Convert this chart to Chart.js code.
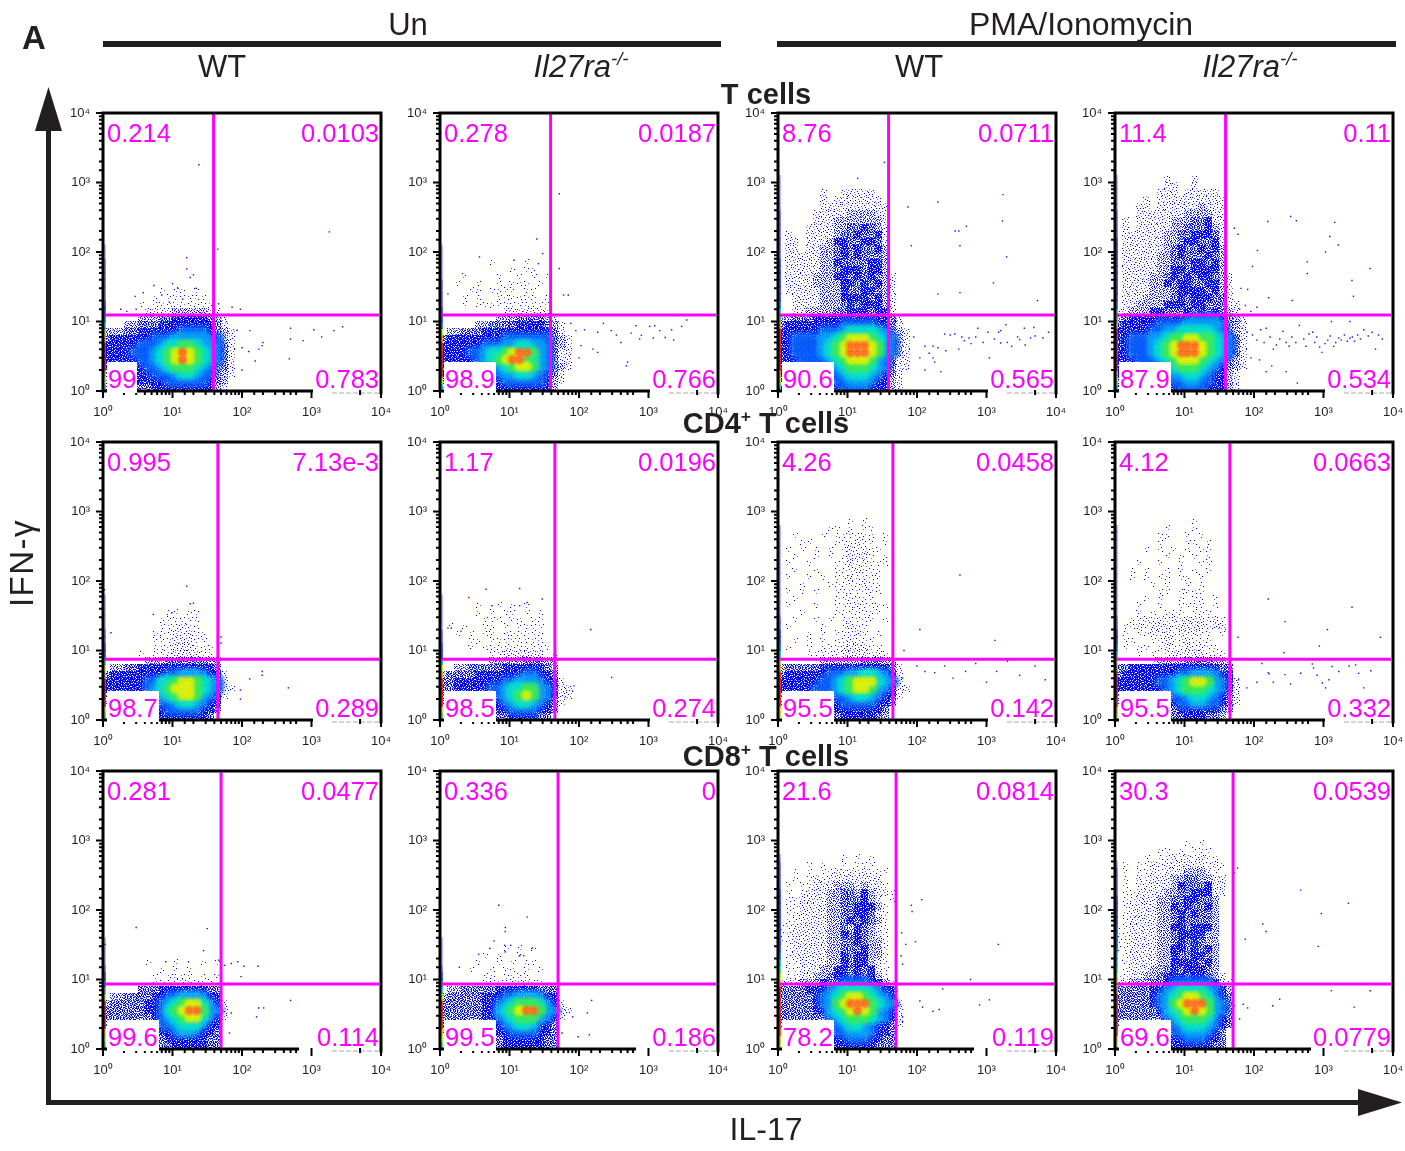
<!DOCTYPE html>
<html>
<head>
<meta charset="utf-8">
<title>IFN-γ / IL-17</title>
<script src="https://cdn.jsdelivr.net/npm/chart.js@4"></script>
<style>
  html, body { margin: 0; background: #fff; }
  #page { position: relative; width: 1405px; height: 1151px; overflow: hidden;
          font-family: "Liberation Sans", Arial, sans-serif; color: #231f20; }
  #page canvas { position: absolute; }
  .txt { position: absolute; white-space: nowrap; transform: translate(-50%, -50%); line-height: 1; }
  .gate { position: absolute; white-space: nowrap; color: #ff00ff; font-size: 25.5px; line-height: 1; }
  sup { font-size: 60%; line-height: 0; }
</style>
</head>
<body>
<div id="page"></div>
<script>
const tickValues = [1, 10, 100, 1000, 10000];
const tickLabels = ["10⁰", "10¹", "10²", "10³", "10⁴"];
const conditions = ["Un", "PMA/Ionomycin"];
const rowTitles = ["T cells", "CD4<sup>+</sup> T cells", "CD8<sup>+</sup> T cells"];

// gate position of each row, in axis units
const gateX = [39, 45, 50];
const gateY = [12.4, 7.5, 8.6];

// quadrant percentages: upper left, upper right, lower left, lower right
const pctTWtUn = ["0.214", "0.0103", "99", "0.783"];
const pctTKoUn = ["0.278", "0.0187", "98.9", "0.766"];
const pctTWtPma = ["8.76", "0.0711", "90.6", "0.565"];
const pctTKoPma = ["11.4", "0.11", "87.9", "0.534"];
const pctCd4WtUn = ["0.995", "7.13e-3", "98.7", "0.289"];
const pctCd4KoUn = ["1.17", "0.0196", "98.5", "0.274"];
const pctCd4WtPma = ["4.26", "0.0458", "95.5", "0.142"];
const pctCd4KoPma = ["4.12", "0.0663", "95.5", "0.332"];
const pctCd8WtUn = ["0.281", "0.0477", "99.6", "0.114"];
const pctCd8KoUn = ["0.336", "0", "99.5", "0.186"];
const pctCd8WtPma = ["21.6", "0.0814", "78.2", "0.119"];
const pctCd8KoPma = ["30.3", "0.0539", "69.6", "0.0779"];

// density, one character per 0.1 x 0.1 decade cell, top row first,
// first column at 10^0: a,1,2,3 = sparse to dense blue, 4..9 = light blue up to red
const gridTWtUn = [
  "00000000a0aa0a000000",
  "0000000a0aaaaaa00000",
  "00000a0aaaaaaaaa0000",
  "00000011112222211000",
  "00000111223333322100",
  "00011222333333333100",
  "11122333333444433210",
  "23333334445555544210",
  "33333444566776554310",
  "33334445678987654310",
  "33333445678987654310",
  "33333344567776543310",
  "22333334445665443210",
  "12223333344444433200",
  "12222223333333332100",
];
const gridTKoUn = [
  "0000000a0000a0000000",
  "0000000000a0aa000000",
  "000a0000a00a0a0a0000",
  "00a00a00a0aaa0a00000",
  "0000aa0aaaa0aa000000",
  "000a0a00aaaaaa0a0000",
  "000a0aaaaaaaaaaa0000",
  "00000000011111110000",
  "00000000111222211000",
  "00000112222333322100",
  "01122233333333333100",
  "23333333344444443210",
  "33333344455665543210",
  "33334456678997543110",
  "33333456789976543110",
  "33333344567887543210",
  "33333334455665433100",
  "23333333344444432100",
  "12233333333333332000",
];
const gridTWtPma = [
  "00000010011111000000",
  "00000010111111100000",
  "00000011111111110000",
  "00000111112222110000",
  "00000111222222210000",
  "00001111223333210000",
  "01001111233333310000",
  "01101112333333310000",
  "01101122333333320000",
  "01111122333333320000",
  "01111122333333320000",
  "01111122333333320000",
  "01111222333333321000",
  "01111222233333321000",
  "01111122233333321000",
  "00111122233333321000",
  "00111122233333321000",
  "00112222333333331000",
  "11222333333333333100",
  "23333333344444333100",
  "33333344456666543210",
  "33444455678887654210",
  "33444456789998754210",
  "33444456789998754210",
  "33344445678887543110",
  "33344444567776543110",
  "33333344456665433100",
  "23333333445554332100",
  "23333333344443332100",
];
const gridTKoPma = [
  "00000001000100000000",
  "00000001100100000000",
  "00000011101111100000",
  "00001011111111110000",
  "00011011111121110000",
  "00011111112222110000",
  "01011111222333110000",
  "01011111223333210000",
  "01111112233333310000",
  "01111112233333310000",
  "01111112333333320000",
  "01111122333333320000",
  "01111122333333320000",
  "01111122333333320000",
  "01111223333333321000",
  "01111223333333321000",
  "01111222333333321000",
  "01112222333333331000",
  "01122223333333331100",
  "11222333333333332100",
  "12333333333444433210",
  "23333344445555543210",
  "33333445566666543210",
  "33444556778877654310",
  "33444567899987654310",
  "33444567899987654310",
  "33344456788876543210",
  "33344445677765433210",
  "33333344556654332100",
  "23333334445544332100",
  "23333333344443332100",
];
const gridCd4WtUn = [
  "000000000aa0aa000000",
  "00000000aaaaaa000000",
  "00000000aaa1aa000000",
  "0000000aaa1a1aa00000",
  "0000000aaa111aa00000",
  "0000000aaa111aaa0000",
  "00000a0aaa1111aa0000",
  "00000011122222211000",
  "01122333333333332000",
  "23333333344555433100",
  "33333344667887654100",
  "33333345678887654110",
  "23333333567887543100",
  "12222333445665433000",
  "00122233344444332000",
  "00112233333333320000",
];
const gridCd4KoUn = [
  "00000a00a0a0a0000000",
  "00000a0a0aa0a0a00000",
  "000000aaa0aa0aa00000",
  "0a0a00aa0a0aaaa00000",
  "00a0a0aa0aaaaaa00000",
  "0000aa0aaaaaaaa00000",
  "0000a0aaaaaaaaaa0000",
  "0000000aa1111110a000",
  "00000001111122211000",
  "00112222233333321000",
  "12222333333344332000",
  "22333333344555433100",
  "22333334456677543110",
  "22333333456787543110",
  "12222223345665432100",
  "00122222334444332000",
  "00011122223333220000",
];
const gridCd4WtPma = [
  "0000000000a0a0000000",
  "0000000aa0a0aa000000",
  "00a000a0aaaaaa0a0000",
  "000aa000aaa1aa0a0000",
  "0a0a0a0a0a1a1aa00000",
  "00a00a0a0a111a0a0000",
  "0a00a000aa1a1aaa0000",
  "00a00a00aaa1aaa00000",
  "0a00a0a0aa1aaaa00000",
  "000a000aaaaa1aa00000",
  "0a0a0a00aaaaaaa00000",
  "00a00000aaaaaa000000",
  "0a000a00aaa1aaaa0000",
  "000a0000aaaaaaa00000",
  "00a00a0a0aaaaa0a0000",
  "0a0000a00a1aa0000000",
  "0000a0a0aaa1a0a00000",
  "00a0a0a0aa1aaa000000",
  "0a00a0aaa1111aa00000",
  "0000aaaaa1111a1a0000",
  "00000011111122211000",
  "12222233333333332100",
  "23333334445566543100",
  "33333344567888654100",
  "33333444567887543110",
  "22333333445665433100",
  "11222233344444332000",
  "01122223333333320000",
  "00112222233333210000",
];
const gridCd4KoPma = [
  "00000000000a00000000",
  "0000000a000a00000000",
  "000000aa00a0a0000000",
  "000000a000aa0a000000",
  "0000a0a0a0a0aa000000",
  "0000000a0a0a0a000000",
  "000a00a00a00aa000000",
  "00a0a00a0a0a0a000000",
  "00a0a0aa0aa0a0000000",
  "00000a0a00a0a0000000",
  "000000aa0aaaa0000000",
  "0000a0a00a0aa0a00000",
  "000a00a00aaaa0a00000",
  "000a0a0aaa0aaa000000",
  "00aa1a1a1a111a1a0000",
  "0aa1a111a1111a110000",
  "0a0aa1a1a1a1aa0a0000",
  "0aa00aa1aa1aaa000000",
  "0a0aa0a1aa1a1aa00000",
  "000a0a0a1a111aaa0000",
  "00000a1111222211a000",
  "22333333333333322000",
  "23333333344555433000",
  "33333344567887543100",
  "33333334567776543100",
  "22333333445665432100",
  "11122233344554432100",
  "00011222233333321000",
  "00001122223332210000",
];
const gridCd8WtUn = [
  "000000a000a000a0a000",
  "00000000a0a0a0000000",
  "0000000a0aaaa0a0a000",
  "0000000aaaa1aaaa0000",
  "00000222333333322000",
  "01122223344555433000",
  "12222233456788643100",
  "22222233467899754100",
  "22222223456788643100",
  "22222222445666433000",
  "01222222334554332000",
  "00000222233333322000",
  "00000022223333322000",
];
const gridCd8KoUn = [
  "000000000a0a0a000000",
  "000000a0a00a00000000",
  "00000a00a0a0aa000000",
  "0000a00a0aa0a0a00000",
  "000000aa0aaaa0000000",
  "000000aaaa1a1aa00000",
  "01122222333333222000",
  "12222233344555433000",
  "22222233456777643100",
  "22222233567899754110",
  "22222233456777543100",
  "22222222345665332000",
  "12222222334444332000",
  "00011222233333322000",
  "00000122233333322000",
];
const gridCd8WtPma = [
  "000000000a0a0a000000",
  "0000a0a00a0aaa000000",
  "00a0a0aa1a1a1aaa0000",
  "00a0a1a1111111100000",
  "0a0aa1112221211a0000",
  "0a0a111223323211a000",
  "0aa1111223333210a000",
  "0aa111122333332a0000",
  "0aa111122333331a0000",
  "0aa111122333332a0000",
  "aa1111122323321a0000",
  "aa1111122333321a0000",
  "aa1111122333322a0000",
  "0a1111122333322a0000",
  "0a1111122333322a0000",
  "0aa111122333321a0000",
  "0aa111223333331a0000",
  "0aa112233333332a0000",
  "1112223334444332a000",
  "22223334566665433000",
  "22222345678876543000",
  "22222345789997654100",
  "22222335678987543100",
  "22222224567776543100",
  "11111113456654332100",
  "00000223445554332000",
  "00000223334443322000",
  "00000222333333222000",
];
const gridCd8KoPma = [
  "0000000000a0a0000000",
  "000000aa0a0aaa000000",
  "0000a0aa1a1a1aa00000",
  "0a0aa1a111111a1a0000",
  "0a0aa1a1112221a00000",
  "0a01a111223322110000",
  "0a0a1111233333110000",
  "0aa11112233333110000",
  "0aa11122333333200000",
  "0a111122333333200000",
  "0a111122333333200000",
  "0a111122333333200000",
  "aa111122333333200000",
  "aa111122333332200000",
  "aa111122333332200000",
  "aa111122333333200000",
  "0a111122333333200000",
  "0a111122333333200000",
  "0a111223333333200000",
  "aa112233333333210000",
  "1122233344444431a000",
  "22222334566665431000",
  "22222345678876432000",
  "22222345789997542000",
  "22222235678987542000",
  "22222224567776432000",
  "11111113456665432000",
  "00000223445554320000",
  "00000223334443320000",
  "00000222333333220000",
];

// events piled up on the left axis, per 0.1 decade, lowest first
const edgeTWtUn = "678999987543322222211";
const edgeTKoUn = "579999987433222211111";
const edgeTWtPma = "6789999998654333333222222211111";
const edgeTKoPma = "6789999998654333333333222211111";
const edgeCd4WtUn = "689999875332211111";
const edgeCd4KoUn = "689999875332211111";
const edgeCd4WtPma = "7899999875433221111111111111";
const edgeCd4KoPma = "7899999875433221111111111111";
const edgeCd8WtUn = "6789999754321111";
const edgeCd8KoUn = "6789999754321111";
const edgeCd8WtPma = "7899999998765433333333322221";
const edgeCd8KoPma = "789999998776554444333322221";

// single events outside the main clouds, [IL-17, IFN-γ]
const dotsTWtUn = [[24,1800],[1800,195],[45,110],[16,83],[16,57],[20,47],[18,43],[10,35],[5.4,33],[3.8,26],[2.9,23],[72,16],[95,15],[46,18],[500,8],[500,5.6],[1080,7.6],[1400,6],[2100,7.4],[2800,8.4],[760,5.3],[200,5],[195,4.5],[130,7.4],[175,4],[125,3.7],[100,4.2],[155,2.7],[100,2],[480,2.9],[85,7.5],[7,24],[12,30],[9,19],[14,21],[22,30],[3,15],[2.2,14],[1.8,15]];
const dotsTKoUn = [[52,690],[24.7,154],[30,95],[3.7,85],[11.6,76],[26,68],[52,58],[120,7.6],[186,7],[225,9.4],[290,7.4],[345,6.4],[400,5],[565,6.8],[660,8.7],[790,6.3],[745,5.6],[1040,8.5],[1230,8.7],[1450,7.4],[1170,5.8],[1740,5.9],[2300,5.4],[2150,7.6],[3000,8.5],[3550,10.5],[76,9.4],[90,7.4],[107,4.5],[158,4],[186,3.6],[100,3],[500,2.6],[480,2.3],[70,24],[60,24],[1.3,25]];
const dotsTWtPma = [[1730,670],[1700,280],[200,525],[74,445],[355,200],[400,200],[515,234],[415,123],[1950,85],[1260,36],[415,26],[200,25],[5400,20],[83,123],[14,1150],[34,1950],[250,6.6],[300,6.4],[350,6.6],[440,6],[480,5.3],[560,5.8],[700,6],[900,5],[1050,7],[1300,5.6],[1600,4.9],[2000,5],[2300,4.4],[2800,6],[3500,8],[4300,5.8],[5000,6.2],[7800,7],[200,4.2],[150,3.5],[170,4.4],[400,4],[600,4.8],[1100,3],[750,8],[1500,7],[1900,9],[3000,5.5],[260,3.8],[130,2],[180,2.6],[220,1.9],[110,3],[90,6],[130,4.4],[170,3],[1600,7.4],[4800,8.2],[6500,5.8],[3600,4.6]];
const dotsTKoPma = [[337,325],[407,282],[1450,267],[158,275],[1230,167],[1630,126],[1070,100],[585,72],[585,49],[4670,58],[2570,39],[2700,23],[354,20],[162,22],[112,105],[95,62],[81,29],[65,30],[52,220],[59,180],[62,15],[75,17],[90,14],[110,16],[68,8],[80,7],[95,6.4],[110,5.4],[125,7.6],[140,5],[150,8],[170,6],[190,4],[210,4.6],[235,5.6],[260,7.2],[290,5],[320,4.4],[350,6],[400,5],[450,8.8],[520,5.6],[560,4.4],[620,6.6],[700,7],[750,5],[800,6],[880,4.3],[950,3.6],[1050,4.8],[1150,5.4],[1250,6.2],[1400,4.4],[1500,5],[1650,5.8],[1800,5.4],[2000,6.4],[2200,5.2],[2400,5.8],[2600,6],[2800,5.2],[3100,6.4],[3400,5.6],[3800,7.6],[4400,6.2],[5000,7],[5600,4],[6200,6.4],[7000,5.6],[1300,10],[2400,10],[90,3],[120,2.8],[180,2.3],[290,1.9],[150,1.9],[420,1.3]];
const dotsCd4WtUn = [[195,5],[195,4.4],[129,3.9],[465,2.9],[95,2.7],[95,2],[50,15.6],[50,12.8],[16,84],[20,48],[18,47],[5.3,33],[9.8,35],[1.3,18],[1.05,75]];
const dotsCd4KoUn = [[148,20],[295,4.1],[4.6,76],[2.6,58],[14,78],[29.5,55],[5.6,44],[14,44],[18,49],[85,3.1],[81,2.6],[1.3,21],[1.45,21],[2,19]];
const dotsCd4WtPma = [[415,122],[110,20],[1320,14],[100,6],[130,5],[180,4.8],[250,6],[330,4],[500,5],[700,6.5],[1000,3.5],[1400,5],[2000,7],[3000,4.4],[5000,6],[7000,3.8],[65,10],[62,4]];
const dotsCd4KoPma = [[160,55],[2570,42],[280,26],[1140,20],[6600,15.5],[870,11.6],[270,9.3],[59,15.5],[130,6.5],[160,4.8],[165,4.6],[110,3.5],[190,3.5],[335,3.3],[280,4.5],[470,4.7],[690,6.4],[720,5.6],[810,4.4],[960,3.4],[1070,2.9],[1200,3.8],[1330,5.9],[1660,5],[2340,6],[2900,6.2],[3200,4.7],[4800,5.1],[3800,2.9],[79,2.9],[48,5.2],[60,3.8]];
const dotsCd8WtUn = [[3,56],[31.6,54],[28,26],[1.07,32],[8,18],[17,18],[87,18],[70,17],[56,16],[107,15.5],[170,15.5],[46,19],[97,11],[500,5],[174,3.9],[205,3.9],[162,2.9],[70,3.3],[66,1.7]];
const dotsCd8KoUn = [[7,117],[18,79],[8.7,56],[8.7,49],[6,36],[8.5,31],[10.4,31],[5.2,28],[3.6,23],[8.7,25],[21,28],[14,22],[16,22],[1.9,15],[152,5],[132,3.3],[81,2.9],[97,1.5],[141,1.6],[57,1.7],[1.05,10]];
const dotsCd8WtPma = [[117,141],[83,117],[85,95],[60,47],[69,32],[95,35],[1480,32],[59,22],[62,16.6],[590,10],[234,7.3],[110,4.9],[120,4],[170,3.5],[209,3.7],[795,4.3],[1100,5.1],[62,2.9],[62,2.5],[52,6.8],[54,4.2]];
const dotsCd8KoPma = [[470,193],[2280,125],[930,89],[134,63],[149,49],[75,38],[840,30],[58,400],[52,345],[1300,6.9],[4700,6.9],[234,5.2],[186,4.2],[2760,4],[70,4.4],[81,3.9],[62,2.7],[52,4.2]];

const grids = [gridTWtUn, gridTKoUn, gridTWtPma, gridTKoPma, gridCd4WtUn, gridCd4KoUn, gridCd4WtPma, gridCd4KoPma, gridCd8WtUn, gridCd8KoUn, gridCd8WtPma, gridCd8KoPma];
const edges = [edgeTWtUn, edgeTKoUn, edgeTWtPma, edgeTKoPma, edgeCd4WtUn, edgeCd4KoUn, edgeCd4WtPma, edgeCd4KoPma, edgeCd8WtUn, edgeCd8KoUn, edgeCd8WtPma, edgeCd8KoPma];
const dots = [dotsTWtUn, dotsTKoUn, dotsTWtPma, dotsTKoPma, dotsCd4WtUn, dotsCd4KoUn, dotsCd4WtPma, dotsCd4KoPma, dotsCd8WtUn, dotsCd8KoUn, dotsCd8WtPma, dotsCd8KoPma];
const pcts = [pctTWtUn, pctTKoUn, pctTWtPma, pctTKoPma, pctCd4WtUn, pctCd4KoUn, pctCd4WtPma, pctCd4KoPma, pctCd8WtUn, pctCd8KoUn, pctCd8WtPma, pctCd8KoPma];

// layout
const plotLefts = [103, 440, 778, 1115];
const plotTops = [113, 442, 771];
const plotSize = 278;
const marginL = 45, marginT = 15, marginR = 20, marginB = 30;
const binDecades = 0.1;
const page = document.getElementById("page");

// colours of the cloud: dark levels are speckle, the rest are soft round cells
const softColors = { 4: "#0058ff", 5: "#00a0f8", 6: "#00e0c8", 7: "#38e858", 8: "#d8f000", 9: "#ff6a10" };
const softSizes = { 4: 19, 5: 19, 6: 19, 7: 17, 8: 15, 9: 13 };
const softGrain = { 4: 0.45, 5: 0.45, 6: 0.35, 7: 0.25, 8: 0.25, 9: 0.2 };
const edgeColors = { 1: "#a0a8ff", 2: "#6068ff", 3: "#2030ff", 4: "#0068ff", 5: "#00c0e0", 6: "#20e070", 7: "#b0f000", 8: "#ffb000", 9: "#ff2000" };
const speckle = {
  a: ["......./..b..../......./.....l./......./.b...../.......",
      "......./.....b./..l..../......./......./...b.../.......",
      ".b...../......./....b../......./..l..../......./......."],
  1: [".b...l./......./...b.../l....../....b../.l..../.....b.",
      "...b.../l....b./......./..l..../.....b./.b...../...l...",
      "......b/..l..../b....l./......./...b.../......l/.b....."],
  2: ["b.l.b../...b..l/l.b...b/..l.b../b...l.b/.b.b.../..l..bl",
      ".b..l.b/l..b.../..b.l.b/b.l...l/...b.b./l.b...b/.l..b..",
      "l..b.l./.b...b./b.l.b../...l..b/.b.b..l/b...l../..b.b.l"],
  3: ["bb.lb.b/l.bb..l/b..blb./.bb..bl/bl.b.b./..bbl.b/bb..b.l",
      "b..blb./.bl.b.b/lb..bb./b.bl..b/.b.bb.l/bb..l.b/.lb.b..",
      "b.b..cb/.bl.bb./bc.b..l/.b.bl.b/lb.b..b/b..bcb./.bb.l.b"],
  d: ["bblbb.b/lbbb.bl/bb.blbb/b.bbblb/bblb.bb/.bbbbl./bblbbbb",
      "b.bblbb/bblb.bb/lbbbbl./bb.bbbb/.blbb.l/bbbb.bb/lb.bbbb",
      "bbb.bcb/.bblbbb/bcbbb.l/bb.bblb/lbbb.bb/bb.bbcb/bbblb.b"],
};
const speckleInk = { b: "#0000ff", l: "#6068ff", c: "#00d0e0" };

// each pattern also in its flipped and turned forms, so the cells do not line up
function orientations(pattern) {
  const m = pattern.split("/").map(r => [...r]);
  const flipX = g => g.map(r => [...r].reverse());
  const turn = g => g[0].map((_, x) => g.map(r => r[x]));
  return [m, flipX(m), turn(m), flipX(turn(m)), [...m].reverse()];
}

function makeSprite(cells) {
  const c = document.createElement("canvas");
  c.width = c.height = 7;
  const g = c.getContext("2d");
  cells.forEach((row, y) => row.forEach((ch, x) => {
    if (speckleInk[ch]) { g.fillStyle = speckleInk[ch]; g.fillRect(x, y, 1, 1); }
  }));
  return c;
}
const sprites = {};
for (const k of Object.keys(speckle)) sprites[k] = speckle[k].flatMap(orientations).map(makeSprite);
sprites.m = [...sprites[3], ...sprites.d];

function makeSoft(level) {
  const size = softSizes[level], color = softColors[level], c = document.createElement("canvas");
  c.width = c.height = size;
  const g = c.getContext("2d");
  const r = g.createRadialGradient(size / 2, size / 2, size * 0.18, size / 2, size / 2, size / 2);
  r.addColorStop(0, color);
  r.addColorStop(1, color + "00");
  g.fillStyle = r;
  g.fillRect(0, 0, size, size);
  g.globalCompositeOperation = "destination-out";
  g.globalAlpha = softGrain[level];
  let n = 0;
  for (let y = 0; y < size; y += 7) for (let x = 0; x < size; x += 7) g.drawImage(sprites[2][(n++ * 4) % 15], x, y);
  return c;
}
const softSprites = {};
for (const k of Object.keys(softColors)) softSprites[k] = makeSoft(k);

const pick = (n, k) => (k * 7 + (k % 5) * 3 + (k % 11)) % n;

function cellsOf(rows, level) {
  const out = [];
  rows.forEach((row, i) => {
    const r = rows.length - 1 - i;
    [...row].forEach((ch, col) => {
      if (ch === level) out.push({ x: 10 ** ((col + 0.5) * binDecades), y: 10 ** ((r + 0.5) * binDecades) });
    });
  });
  return out;
}

const framePlugin = {
  id: "frame",
  beforeDatasetsDraw(chart) {
    // keeps the speckle crisp on every column of the grid
    chart.ctx.imageSmoothingEnabled = false;
  },
  afterDatasetsDraw(chart) {
    const { ctx, chartArea: a, scales: { x, y } } = chart;
    const row = chart.options.plugins.frame.row;
    const solidEnd = x.getPixelForValue(row === 2 ? 630 : 1000);
    ctx.save();
    ctx.strokeStyle = "#000";
    ctx.lineCap = "square";
    ctx.lineWidth = 3;
    ctx.beginPath();
    ctx.moveTo(solidEnd, a.bottom); ctx.lineTo(a.left, a.bottom);
    ctx.lineTo(a.left, a.top); ctx.lineTo(a.right, a.top); ctx.lineTo(a.right, a.bottom + 2);
    ctx.stroke();
    // the faint end of the bottom axis
    ctx.lineWidth = 1;
    ctx.strokeStyle = "#aaa";
    ctx.setLineDash([4, 3]);
    ctx.beginPath();
    ctx.moveTo(x.getPixelForValue(2000), a.bottom + 2); ctx.lineTo(a.right, a.bottom + 2);
    ctx.stroke();
    ctx.setLineDash([]);
    ctx.strokeStyle = "#000";
    ctx.lineWidth = 2;
    ctx.beginPath();
    for (const t of y.ticks) {
      const p = y.getPixelForValue(t.value);
      ctx.moveTo(a.left - (tickValues.includes(t.value) ? 6 : 3), p); ctx.lineTo(a.left, p);
    }
    for (const t of x.ticks) {
      const major = tickValues.includes(t.value);
      if (!major && t.value > 600 && t.value !== 5000) continue;
      const p = x.getPixelForValue(t.value);
      ctx.moveTo(p, a.bottom); ctx.lineTo(p, a.bottom + (major ? 6 : 3));
    }
    ctx.stroke();
    ctx.restore();
  },
};

function axis(pad) {
  return {
    type: "logarithmic", min: 1, max: 10000,
    grid: { display: false }, border: { display: false },
    ticks: {
      autoSkip: false, maxRotation: 0, minRotation: 0, padding: pad, color: "#231f20",
      font: { family: "Liberation Sans", size: 13 },
      callback: v => { const i = tickValues.indexOf(v); return i < 0 ? "" : tickLabels[i]; },
    },
  };
}

function drawPanel(i) {
  const col = i % 4, row = Math.floor(i / 4);
  const canvas = document.createElement("canvas");
  canvas.width = plotSize + marginL + marginR;
  canvas.height = plotSize + marginT + marginB;
  canvas.style.left = plotLefts[col] - marginL + "px";
  canvas.style.top = plotTops[row] - marginT + "px";
  page.appendChild(canvas);

  const sets = [
    { data: [{ x: gateX[row], y: 1.04 }, { x: gateX[row], y: 9600 }], showLine: true, borderColor: "#ff00ff", borderWidth: 3, pointRadius: 0 },
    { data: [{ x: 1.06, y: gateY[row] }, { x: 9400, y: gateY[row] }], showLine: true, borderColor: "#ff00ff", borderWidth: 3, pointRadius: 0 },
    { data: dots[i].map(([x, y]) => ({ x, y })), pointStyle: "rect", pointRadius: 1, pointBorderWidth: 0, backgroundColor: "#1414ff" },
    { data: [...edges[i]].map((_, r) => ({ x: 1.07, y: 10 ** ((r + 0.5) * binDecades) })),
      pointStyle: "line", pointRotation: 90, pointRadius: 4, pointBorderWidth: 1.5,
      borderColor: ctx => edgeColors[edges[i][ctx.dataIndex]] || "#0000ff" },
  ];
  for (const level of ["9", "8", "7", "6", "5", "4"]) {
    sets.push({ data: cellsOf(grids[i], level), pointRadius: 8, pointBorderWidth: 0, pointStyle: softSprites[level] });
  }
  // the main population, left of the gate and under it, is packed tighter than the rest
  const inMain = p => p.y < gateY[row] && p.x < gateX[row];
  const main = level => cellsOf(grids[i], level).filter(inMain);
  const rest = level => cellsOf(grids[i], level).filter(p => !inMain(p));
  const rightOf = level => rest(level).filter(p => p.y < gateY[row]);
  const upper = level => rest(level).filter(p => p.y >= gateY[row]);
  const speckled = [
    ["d", main("3")],
    ["m", upper("3")],
    ["3", [...main("2"), ...rightOf("3")]],
    ["2", [...main("1"), ...rightOf("2"), ...upper("2")]],
    ["1", [...rightOf("1"), ...upper("1")]],
    ["a", cellsOf(grids[i], "a")],
  ];
  for (const [level, data] of speckled) {
    sets.push({ data, pointRadius: 4, pointBorderWidth: 0,
      pointStyle: ctx => sprites[level][pick(sprites[level].length, ctx.dataIndex)] });
  }

  const yAxis = axis(5), xAxis = axis(6);
  yAxis.afterFit = s => { s.width = marginL; };
  xAxis.afterFit = s => { s.height = marginB; };

  new Chart(canvas, {
    type: "scatter",
    data: { datasets: sets },
    options: {
      responsive: false, animation: false, events: [],
      layout: { padding: { top: marginT, right: marginR, left: 0, bottom: 0 } },
      plugins: { legend: { display: false }, tooltip: { enabled: false }, frame: { row } },
      scales: { x: xAxis, y: yAxis },
    },
    plugins: [framePlugin],
  });
}

function text(html, cx, cy, css) {
  const d = document.createElement("div");
  d.className = "txt";
  d.innerHTML = html;
  d.style.cssText = `left:${cx}px;top:${cy}px;${css}`;
  page.appendChild(d);
  return d;
}

function gateLabels(i) {
  const col = i % 4, row = Math.floor(i / 4);
  const L = plotLefts[col], T = plotTops[row], R = L + plotSize, B = T + plotSize;
  const [ul, ur, ll, lr] = pcts[i];
  const put = (t, css) => {
    const d = document.createElement("div");
    d.className = "gate";
    d.textContent = t;
    d.style.cssText = css;
    page.appendChild(d);
  };
  put(ul, `left:${L + 4}px;top:${T + 8}px`);
  put(ur, `right:${1405 - R + 2}px;top:${T + 8}px`);
  put(ll, `left:${L + 4}px;top:${B - 29}px;height:31px;padding:5px 1px 0 1px;box-sizing:border-box;background:#fff`);
  put(lr, `right:${1405 - R + 2}px;top:${B - 24}px`);
}

for (let i = 0; i < 12; i++) drawPanel(i);
for (let i = 0; i < 12; i++) gateLabels(i);

// headings and the two big axis arrows
const ink = "#231f20";
page.insertAdjacentHTML("beforeend", `
<svg width="1405" height="1151" style="position:absolute;left:0;top:0;pointer-events:none">
  <rect x="103" y="41" width="618" height="6" fill="${ink}"/>
  <rect x="777" y="41" width="619" height="6" fill="${ink}"/>
  <rect x="46" y="120" width="5" height="985" fill="${ink}"/>
  <rect x="46" y="1100" width="1320" height="5" fill="${ink}"/>
  <polygon points="48.5,87 35,131 62,131" fill="${ink}"/>
  <polygon points="1402,1102.5 1358,1089 1358,1116" fill="${ink}"/>
</svg>`);
text("A", 34, 37, "font-size:33px;font-weight:bold");
text(conditions[0], 408, 24, "font-size:31px");
text(conditions[1], 1081, 24, "font-size:32px");
text("WT", 222, 66, "font-size:31px");
text("<i>Il27ra</i><sup><i>-/-</i></sup>", 581, 66, "font-size:31px");
text("WT", 919, 66, "font-size:31px");
text("<i>Il27ra</i><sup><i>-/-</i></sup>", 1250, 66, "font-size:31px");
text(rowTitles[0], 766, 94, "font-size:29px;font-weight:bold");
text(rowTitles[1], 766, 423, "font-size:29px;font-weight:bold");
text(rowTitles[2], 766, 756, "font-size:29px;font-weight:bold");
text("IL-17", 766, 1129, "font-size:32px");
text("IFN-γ", 21, 563, "font-size:33px;letter-spacing:1.5px;transform:translate(-50%,-50%) rotate(-90deg)");
</script>
</body>
</html>
